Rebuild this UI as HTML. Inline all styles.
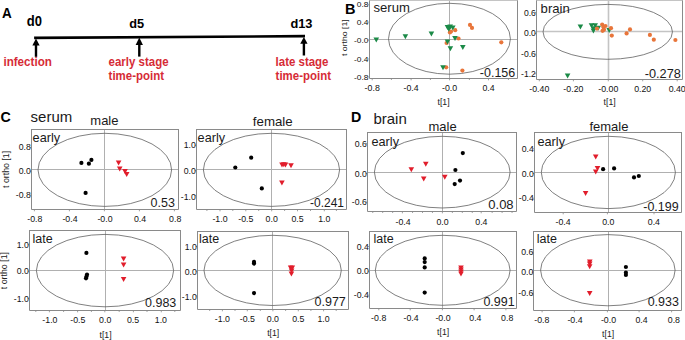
<!DOCTYPE html>
<html><head><meta charset="utf-8"><style>
html,body{margin:0;padding:0;background:#fff;}
body{width:685px;height:340px;overflow:hidden;}
svg{display:block;font-family:"Liberation Sans", sans-serif;}
</style></head><body>
<svg width="685" height="340" viewBox="0 0 685 340">
<rect width="685" height="340" fill="#fff"/>
<line x1="369.5" y1="39.5" x2="517.5" y2="39.5" stroke="#b0b0b0" stroke-width="1.0"/>
<line x1="449.5" y1="0.5" x2="449.5" y2="78.5" stroke="#b0b0b0" stroke-width="1.0"/>
<ellipse cx="449.45" cy="38.75" rx="60.95" ry="35.45" fill="none" stroke="#555555" stroke-width="0.75"/>
<line x1="369.0" y1="0.5" x2="518.0" y2="0.5" stroke="#c4c4c4" stroke-width="1"/>
<path d="M369.5,0.5V78.5H517.5V0.5" fill="none" stroke="#8a8a8a" stroke-width="1"/>
<line x1="372.2" y1="78.5" x2="372.2" y2="80.3" stroke="#8a8a8a" stroke-width="0.8"/>
<line x1="411.1" y1="78.5" x2="411.1" y2="80.3" stroke="#8a8a8a" stroke-width="0.8"/>
<line x1="449.6" y1="78.5" x2="449.6" y2="80.3" stroke="#8a8a8a" stroke-width="0.8"/>
<line x1="488.5" y1="78.5" x2="488.5" y2="80.3" stroke="#8a8a8a" stroke-width="0.8"/>
<line x1="391.40" y1="78.5" x2="391.40" y2="80.0" stroke="#8a8a8a" stroke-width="0.8"/>
<line x1="430.40" y1="78.5" x2="430.40" y2="80.0" stroke="#8a8a8a" stroke-width="0.8"/>
<line x1="469.40" y1="78.5" x2="469.40" y2="80.0" stroke="#8a8a8a" stroke-width="0.8"/>
<line x1="508.40" y1="78.5" x2="508.40" y2="80.0" stroke="#8a8a8a" stroke-width="0.8"/>
<line x1="367.7" y1="4.7" x2="369.5" y2="4.7" stroke="#8a8a8a" stroke-width="0.8"/>
<line x1="367.7" y1="22.1" x2="369.5" y2="22.1" stroke="#8a8a8a" stroke-width="0.8"/>
<line x1="367.7" y1="40" x2="369.5" y2="40" stroke="#8a8a8a" stroke-width="0.8"/>
<line x1="367.7" y1="59" x2="369.5" y2="59" stroke="#8a8a8a" stroke-width="0.8"/>
<line x1="367.7" y1="77" x2="369.5" y2="77" stroke="#8a8a8a" stroke-width="0.8"/>
<text transform="translate(368.40,7.47) scale(1.0,0.92)" font-size="8.4" text-anchor="end" font-weight="normal" fill="#111111" >0.8</text>
<text transform="translate(368.40,24.87) scale(1.0,0.92)" font-size="8.4" text-anchor="end" font-weight="normal" fill="#111111" >0.4</text>
<text transform="translate(368.40,42.77) scale(1.0,0.92)" font-size="8.4" text-anchor="end" font-weight="normal" fill="#111111" >-0.0</text>
<text transform="translate(368.40,61.77) scale(1.0,0.92)" font-size="8.4" text-anchor="end" font-weight="normal" fill="#111111" >-0.4</text>
<text transform="translate(368.40,79.77) scale(1.0,0.92)" font-size="8.4" text-anchor="end" font-weight="normal" fill="#111111" >-0.8</text>
<text transform="translate(372.20,90.89) scale(1.0,0.95)" font-size="8.8" text-anchor="middle" font-weight="normal" fill="#111111" >-0.8</text>
<text transform="translate(411.10,90.89) scale(1.0,0.95)" font-size="8.8" text-anchor="middle" font-weight="normal" fill="#111111" >-0.4</text>
<text transform="translate(449.60,90.89) scale(1.0,0.95)" font-size="8.8" text-anchor="middle" font-weight="normal" fill="#111111" >-0.0</text>
<text transform="translate(488.50,90.89) scale(1.0,0.95)" font-size="8.8" text-anchor="middle" font-weight="normal" fill="#111111" >0.4</text>
<circle cx="470.00" cy="24.90" r="2.1" fill="#e8753a"/>
<circle cx="472.00" cy="27.90" r="2.1" fill="#e8753a"/>
<circle cx="455.20" cy="30.20" r="2.1" fill="#e8753a"/>
<circle cx="449.90" cy="32.40" r="2.1" fill="#e8753a"/>
<circle cx="451.00" cy="31.50" r="2.1" fill="#e8753a"/>
<circle cx="458.50" cy="38.50" r="2.1" fill="#e8753a"/>
<circle cx="446.60" cy="43.00" r="2.1" fill="#e8753a"/>
<circle cx="501.30" cy="42.30" r="2.1" fill="#e8753a"/>
<circle cx="446.20" cy="67.30" r="2.1" fill="#e8753a"/>
<circle cx="462.40" cy="70.60" r="2.1" fill="#e8753a"/>
<path d="M373.50,37.50L379.10,37.50L376.30,42.50Z" fill="#1b8a47"/>
<path d="M402.60,34.30L408.20,34.30L405.40,39.30Z" fill="#1b8a47"/>
<path d="M428.60,31.60L434.20,31.60L431.40,36.60Z" fill="#1b8a47"/>
<path d="M444.70,25.10L450.30,25.10L447.50,30.10Z" fill="#1b8a47"/>
<path d="M447.40,24.60L453.00,24.60L450.20,29.60Z" fill="#1b8a47"/>
<path d="M450.00,25.50L455.60,25.50L452.80,30.50Z" fill="#1b8a47"/>
<path d="M446.00,26.80L451.60,26.80L448.80,31.80Z" fill="#1b8a47"/>
<path d="M452.20,36.10L457.80,36.10L455.00,41.10Z" fill="#1b8a47"/>
<path d="M444.70,39.60L450.30,39.60L447.50,44.60Z" fill="#1b8a47"/>
<path d="M447.60,46.30L453.20,46.30L450.40,51.30Z" fill="#1b8a47"/>
<path d="M460.00,44.90L465.60,44.90L462.80,49.90Z" fill="#1b8a47"/>
<path d="M440.20,65.20L445.80,65.20L443.00,70.20Z" fill="#1b8a47"/>
<text transform="translate(373.50,11.70)" font-size="13.1" text-anchor="start" font-weight="normal" fill="#1a1a1a" >serum</text>
<text transform="translate(515.20,77.20) scale(0.96,1.0)" font-size="13" text-anchor="end" font-weight="normal" fill="#1a1a1a" >-0.156</text>
<line x1="536.5" y1="31.5" x2="682.5" y2="31.5" stroke="#c4c4c4" stroke-width="1.6"/>
<line x1="608.5" y1="0.5" x2="608.5" y2="79.5" stroke="#c4c4c4" stroke-width="1.6"/>
<ellipse cx="607.75" cy="31.85" rx="64.7" ry="27.45" fill="none" stroke="#555555" stroke-width="0.75"/>
<line x1="536.0" y1="0.5" x2="683.0" y2="0.5" stroke="#c4c4c4" stroke-width="1"/>
<path d="M536.5,0.5V79.5H682.5V0.5" fill="none" stroke="#8a8a8a" stroke-width="1"/>
<line x1="539.3" y1="79.5" x2="539.3" y2="81.3" stroke="#8a8a8a" stroke-width="0.8"/>
<line x1="573.4" y1="79.5" x2="573.4" y2="81.3" stroke="#8a8a8a" stroke-width="0.8"/>
<line x1="608.3" y1="79.5" x2="608.3" y2="81.3" stroke="#8a8a8a" stroke-width="0.8"/>
<line x1="642.7" y1="79.5" x2="642.7" y2="81.3" stroke="#8a8a8a" stroke-width="0.8"/>
<line x1="677.2" y1="79.5" x2="677.2" y2="81.3" stroke="#8a8a8a" stroke-width="0.8"/>
<line x1="534.7" y1="12.5" x2="536.5" y2="12.5" stroke="#8a8a8a" stroke-width="0.8"/>
<line x1="534.7" y1="33.4" x2="536.5" y2="33.4" stroke="#8a8a8a" stroke-width="0.8"/>
<line x1="534.7" y1="54" x2="536.5" y2="54" stroke="#8a8a8a" stroke-width="0.8"/>
<line x1="534.7" y1="73.8" x2="536.5" y2="73.8" stroke="#8a8a8a" stroke-width="0.8"/>
<text transform="translate(535.90,15.58)" font-size="8.6" text-anchor="end" font-weight="normal" fill="#111111" >0.6</text>
<text transform="translate(535.90,36.48)" font-size="8.6" text-anchor="end" font-weight="normal" fill="#111111" >0.0</text>
<text transform="translate(535.90,57.08)" font-size="8.6" text-anchor="end" font-weight="normal" fill="#111111" >-0.6</text>
<text transform="translate(535.90,76.88)" font-size="8.6" text-anchor="end" font-weight="normal" fill="#111111" >-1.2</text>
<text transform="translate(539.30,92.09) scale(1.0,0.95)" font-size="8.8" text-anchor="middle" font-weight="normal" fill="#111111" >-0.40</text>
<text transform="translate(573.40,92.09) scale(1.0,0.95)" font-size="8.8" text-anchor="middle" font-weight="normal" fill="#111111" >-0.20</text>
<text transform="translate(608.30,92.09) scale(1.0,0.95)" font-size="8.8" text-anchor="middle" font-weight="normal" fill="#111111" >-0.00</text>
<text transform="translate(642.70,92.09) scale(1.0,0.95)" font-size="8.8" text-anchor="middle" font-weight="normal" fill="#111111" >0.20</text>
<text transform="translate(677.20,92.09) scale(1.0,0.95)" font-size="8.8" text-anchor="middle" font-weight="normal" fill="#111111" >0.40</text>
<path d="M577.60,24.40L583.20,24.40L580.40,29.40Z" fill="#1b8a47"/>
<path d="M588.70,23.20L594.30,23.20L591.50,28.20Z" fill="#1b8a47"/>
<path d="M592.40,23.20L598.00,23.20L595.20,28.20Z" fill="#1b8a47"/>
<path d="M590.60,26.20L596.20,26.20L593.40,31.20Z" fill="#1b8a47"/>
<path d="M590.60,28.60L596.20,28.60L593.40,33.60Z" fill="#1b8a47"/>
<path d="M595.40,25.80L601.00,25.80L598.20,30.80Z" fill="#1b8a47"/>
<path d="M606.40,28.10L612.00,28.10L609.20,33.10Z" fill="#1b8a47"/>
<path d="M564.80,73.60L570.40,73.60L567.60,78.60Z" fill="#1b8a47"/>
<circle cx="597.00" cy="28.60" r="2.1" fill="#e8753a"/>
<circle cx="602.20" cy="24.60" r="2.1" fill="#e8753a"/>
<circle cx="603.30" cy="27.10" r="2.1" fill="#e8753a"/>
<circle cx="602.60" cy="30.80" r="2.1" fill="#e8753a"/>
<circle cx="605.50" cy="26.00" r="2.1" fill="#e8753a"/>
<circle cx="604.00" cy="29.70" r="2.1" fill="#e8753a"/>
<circle cx="611.00" cy="28.20" r="2.1" fill="#e8753a"/>
<circle cx="611.80" cy="35.60" r="2.1" fill="#e8753a"/>
<circle cx="630.00" cy="29.40" r="2.1" fill="#e8753a"/>
<circle cx="626.60" cy="33.40" r="2.1" fill="#e8753a"/>
<circle cx="649.90" cy="34.90" r="2.1" fill="#e8753a"/>
<circle cx="653.80" cy="39.70" r="2.1" fill="#e8753a"/>
<circle cx="675.40" cy="40.00" r="2.1" fill="#e8753a"/>
<text transform="translate(540.60,12.90)" font-size="13.1" text-anchor="start" font-weight="normal" fill="#1a1a1a" >brain</text>
<text transform="translate(680.80,78.00) scale(0.98,1.0)" font-size="13" text-anchor="end" font-weight="normal" fill="#1a1a1a" >-0.278</text>
<line x1="31.5" y1="169.5" x2="178.5" y2="169.5" stroke="#b0b0b0" stroke-width="1.0"/>
<line x1="104.5" y1="129.5" x2="104.5" y2="209.5" stroke="#b0b0b0" stroke-width="1.0"/>
<ellipse cx="104.8" cy="169.85" rx="66.8" ry="36.55" fill="none" stroke="#555555" stroke-width="0.75"/>
<line x1="31.0" y1="129.5" x2="179.0" y2="129.5" stroke="#8a8a8a" stroke-width="1"/>
<path d="M31.5,129.5V209.5H178.5V129.5" fill="none" stroke="#8a8a8a" stroke-width="1"/>
<line x1="34.4" y1="209.5" x2="34.4" y2="211.3" stroke="#8a8a8a" stroke-width="0.8"/>
<line x1="69.4" y1="209.5" x2="69.4" y2="211.3" stroke="#8a8a8a" stroke-width="0.8"/>
<line x1="104.4" y1="209.5" x2="104.4" y2="211.3" stroke="#8a8a8a" stroke-width="0.8"/>
<line x1="139.4" y1="209.5" x2="139.4" y2="211.3" stroke="#8a8a8a" stroke-width="0.8"/>
<line x1="174.4" y1="209.5" x2="174.4" y2="211.3" stroke="#8a8a8a" stroke-width="0.8"/>
<line x1="29.7" y1="147.3" x2="31.5" y2="147.3" stroke="#8a8a8a" stroke-width="0.8"/>
<line x1="29.7" y1="171.2" x2="31.5" y2="171.2" stroke="#8a8a8a" stroke-width="0.8"/>
<line x1="29.7" y1="195" x2="31.5" y2="195" stroke="#8a8a8a" stroke-width="0.8"/>
<text transform="translate(30.80,150.41)" font-size="8.7" text-anchor="end" font-weight="normal" fill="#111111" >0.8</text>
<text transform="translate(30.80,174.31)" font-size="8.7" text-anchor="end" font-weight="normal" fill="#111111" >0.0</text>
<text transform="translate(30.80,198.11)" font-size="8.7" text-anchor="end" font-weight="normal" fill="#111111" >-0.8</text>
<text transform="translate(34.80,222.19) scale(1.0,0.95)" font-size="8.8" text-anchor="middle" font-weight="normal" fill="#111111" >-0.8</text>
<text transform="translate(70.00,222.19) scale(1.0,0.95)" font-size="8.8" text-anchor="middle" font-weight="normal" fill="#111111" >-0.4</text>
<text transform="translate(105.00,222.19) scale(1.0,0.95)" font-size="8.8" text-anchor="middle" font-weight="normal" fill="#111111" >-0.0</text>
<text transform="translate(140.10,222.19) scale(1.0,0.95)" font-size="8.8" text-anchor="middle" font-weight="normal" fill="#111111" >0.4</text>
<text transform="translate(175.20,222.19) scale(1.0,0.95)" font-size="8.8" text-anchor="middle" font-weight="normal" fill="#111111" >0.8</text>
<circle cx="81.40" cy="162.90" r="2.1" fill="#000"/>
<circle cx="88.90" cy="163.70" r="2.1" fill="#000"/>
<circle cx="91.40" cy="159.90" r="2.1" fill="#000"/>
<circle cx="85.60" cy="192.90" r="2.1" fill="#000"/>
<path d="M115.80,160.50L121.40,160.50L118.60,165.50Z" fill="#e11d2b"/>
<path d="M116.90,166.40L122.50,166.40L119.70,171.40Z" fill="#e11d2b"/>
<path d="M122.20,168.90L127.80,168.90L125.00,173.90Z" fill="#e11d2b"/>
<path d="M123.90,172.00L129.50,172.00L126.70,177.00Z" fill="#e11d2b"/>
<text transform="translate(32.60,141.60)" font-size="12.7" text-anchor="start" font-weight="normal" fill="#1a1a1a" >early</text>
<text transform="translate(174.90,206.60) scale(0.96,1.0)" font-size="13" text-anchor="end" font-weight="normal" fill="#1a1a1a" >0.53</text>
<line x1="196.5" y1="169.5" x2="346.5" y2="169.5" stroke="#b0b0b0" stroke-width="1.0"/>
<line x1="271.5" y1="129.5" x2="271.5" y2="209.5" stroke="#b0b0b0" stroke-width="1.0"/>
<ellipse cx="271.5" cy="169.85" rx="68.1" ry="36.55" fill="none" stroke="#555555" stroke-width="0.75"/>
<line x1="196.0" y1="129.5" x2="347.0" y2="129.5" stroke="#8a8a8a" stroke-width="1"/>
<path d="M196.5,129.5V209.5H346.5V129.5" fill="none" stroke="#8a8a8a" stroke-width="1"/>
<line x1="220" y1="209.5" x2="220" y2="211.3" stroke="#8a8a8a" stroke-width="0.8"/>
<line x1="245.8" y1="209.5" x2="245.8" y2="211.3" stroke="#8a8a8a" stroke-width="0.8"/>
<line x1="271.7" y1="209.5" x2="271.7" y2="211.3" stroke="#8a8a8a" stroke-width="0.8"/>
<line x1="297.5" y1="209.5" x2="297.5" y2="211.3" stroke="#8a8a8a" stroke-width="0.8"/>
<line x1="324.3" y1="209.5" x2="324.3" y2="211.3" stroke="#8a8a8a" stroke-width="0.8"/>
<line x1="206.90" y1="209.5" x2="206.90" y2="211.0" stroke="#8a8a8a" stroke-width="0.8"/>
<line x1="232.80" y1="209.5" x2="232.80" y2="211.0" stroke="#8a8a8a" stroke-width="0.8"/>
<line x1="258.70" y1="209.5" x2="258.70" y2="211.0" stroke="#8a8a8a" stroke-width="0.8"/>
<line x1="284.60" y1="209.5" x2="284.60" y2="211.0" stroke="#8a8a8a" stroke-width="0.8"/>
<line x1="310.50" y1="209.5" x2="310.50" y2="211.0" stroke="#8a8a8a" stroke-width="0.8"/>
<line x1="336.40" y1="209.5" x2="336.40" y2="211.0" stroke="#8a8a8a" stroke-width="0.8"/>
<line x1="194.7" y1="145.3" x2="196.5" y2="145.3" stroke="#8a8a8a" stroke-width="0.8"/>
<line x1="194.7" y1="170.7" x2="196.5" y2="170.7" stroke="#8a8a8a" stroke-width="0.8"/>
<line x1="194.7" y1="195.4" x2="196.5" y2="195.4" stroke="#8a8a8a" stroke-width="0.8"/>
<text transform="translate(195.80,148.21)" font-size="8.7" text-anchor="end" font-weight="normal" fill="#111111" >1.0</text>
<text transform="translate(195.80,174.01)" font-size="8.7" text-anchor="end" font-weight="normal" fill="#111111" >0.0</text>
<text transform="translate(195.80,199.71)" font-size="8.7" text-anchor="end" font-weight="normal" fill="#111111" >-1.0</text>
<text transform="translate(220.00,222.19) scale(1.0,0.95)" font-size="8.8" text-anchor="middle" font-weight="normal" fill="#111111" >-1.0</text>
<text transform="translate(245.80,222.19) scale(1.0,0.95)" font-size="8.8" text-anchor="middle" font-weight="normal" fill="#111111" >-0.5</text>
<text transform="translate(271.70,222.19) scale(1.0,0.95)" font-size="8.8" text-anchor="middle" font-weight="normal" fill="#111111" >0.0</text>
<text transform="translate(297.50,222.19) scale(1.0,0.95)" font-size="8.8" text-anchor="middle" font-weight="normal" fill="#111111" >0.5</text>
<text transform="translate(324.30,222.19) scale(1.0,0.95)" font-size="8.8" text-anchor="middle" font-weight="normal" fill="#111111" >1.0</text>
<circle cx="235.30" cy="167.50" r="2.1" fill="#000"/>
<circle cx="251.20" cy="157.70" r="2.1" fill="#000"/>
<circle cx="261.80" cy="188.40" r="2.1" fill="#000"/>
<path d="M279.20,162.40L284.80,162.40L282.00,167.40Z" fill="#e11d2b"/>
<path d="M281.00,162.20L286.60,162.20L283.80,167.20Z" fill="#e11d2b"/>
<path d="M282.70,162.40L288.30,162.40L285.50,167.40Z" fill="#e11d2b"/>
<path d="M288.20,163.30L293.80,163.30L291.00,168.30Z" fill="#e11d2b"/>
<path d="M279.10,180.60L284.70,180.60L281.90,185.60Z" fill="#e11d2b"/>
<text transform="translate(197.60,141.60)" font-size="12.7" text-anchor="start" font-weight="normal" fill="#1a1a1a" >early</text>
<text transform="translate(344.00,207.10) scale(0.92,1.0)" font-size="13" text-anchor="end" font-weight="normal" fill="#1a1a1a" >-0.241</text>
<line x1="29.5" y1="270.5" x2="180.5" y2="270.5" stroke="#b0b0b0" stroke-width="1.0"/>
<line x1="105.5" y1="230.5" x2="105.5" y2="310.5" stroke="#b0b0b0" stroke-width="1.0"/>
<ellipse cx="105.0" cy="270.6" rx="68.6" ry="36.2" fill="none" stroke="#555555" stroke-width="0.75"/>
<line x1="29.0" y1="230.5" x2="181.0" y2="230.5" stroke="#8a8a8a" stroke-width="1"/>
<path d="M29.5,230.5V310.5H180.5V230.5" fill="none" stroke="#8a8a8a" stroke-width="1"/>
<line x1="49.4" y1="310.5" x2="49.4" y2="312.3" stroke="#8a8a8a" stroke-width="0.8"/>
<line x1="77.6" y1="310.5" x2="77.6" y2="312.3" stroke="#8a8a8a" stroke-width="0.8"/>
<line x1="104.8" y1="310.5" x2="104.8" y2="312.3" stroke="#8a8a8a" stroke-width="0.8"/>
<line x1="133.4" y1="310.5" x2="133.4" y2="312.3" stroke="#8a8a8a" stroke-width="0.8"/>
<line x1="161.3" y1="310.5" x2="161.3" y2="312.3" stroke="#8a8a8a" stroke-width="0.8"/>
<line x1="35.80" y1="310.5" x2="35.80" y2="312.0" stroke="#8a8a8a" stroke-width="0.8"/>
<line x1="63.60" y1="310.5" x2="63.60" y2="312.0" stroke="#8a8a8a" stroke-width="0.8"/>
<line x1="91.40" y1="310.5" x2="91.40" y2="312.0" stroke="#8a8a8a" stroke-width="0.8"/>
<line x1="119.20" y1="310.5" x2="119.20" y2="312.0" stroke="#8a8a8a" stroke-width="0.8"/>
<line x1="147.00" y1="310.5" x2="147.00" y2="312.0" stroke="#8a8a8a" stroke-width="0.8"/>
<line x1="174.80" y1="310.5" x2="174.80" y2="312.0" stroke="#8a8a8a" stroke-width="0.8"/>
<line x1="27.7" y1="244.7" x2="29.5" y2="244.7" stroke="#8a8a8a" stroke-width="0.8"/>
<line x1="27.7" y1="271.2" x2="29.5" y2="271.2" stroke="#8a8a8a" stroke-width="0.8"/>
<line x1="27.7" y1="298.4" x2="29.5" y2="298.4" stroke="#8a8a8a" stroke-width="0.8"/>
<text transform="translate(28.80,247.81)" font-size="8.7" text-anchor="end" font-weight="normal" fill="#111111" >1.0</text>
<text transform="translate(28.80,274.31)" font-size="8.7" text-anchor="end" font-weight="normal" fill="#111111" >0.0</text>
<text transform="translate(28.80,301.51)" font-size="8.7" text-anchor="end" font-weight="normal" fill="#111111" >-1.0</text>
<text transform="translate(49.90,322.89) scale(1.0,0.95)" font-size="8.8" text-anchor="middle" font-weight="normal" fill="#111111" >-1.0</text>
<text transform="translate(77.80,322.89) scale(1.0,0.95)" font-size="8.8" text-anchor="middle" font-weight="normal" fill="#111111" >-0.5</text>
<text transform="translate(105.20,322.89) scale(1.0,0.95)" font-size="8.8" text-anchor="middle" font-weight="normal" fill="#111111" >0.0</text>
<text transform="translate(133.10,322.89) scale(1.0,0.95)" font-size="8.8" text-anchor="middle" font-weight="normal" fill="#111111" >0.5</text>
<text transform="translate(160.90,322.89) scale(1.0,0.95)" font-size="8.8" text-anchor="middle" font-weight="normal" fill="#111111" >1.0</text>
<circle cx="86.40" cy="252.90" r="2.1" fill="#000"/>
<circle cx="87.00" cy="274.50" r="2.1" fill="#000"/>
<circle cx="86.50" cy="276.50" r="2.1" fill="#000"/>
<circle cx="86.00" cy="278.30" r="2.1" fill="#000"/>
<path d="M120.80,256.40L126.40,256.40L123.60,261.40Z" fill="#e11d2b"/>
<path d="M120.80,262.50L126.40,262.50L123.60,267.50Z" fill="#e11d2b"/>
<path d="M120.80,276.90L126.40,276.90L123.60,281.90Z" fill="#e11d2b"/>
<text transform="translate(32.50,243.00)" font-size="12.5" text-anchor="start" font-weight="normal" fill="#1a1a1a" >late</text>
<text transform="translate(176.30,306.60) scale(0.96,1.0)" font-size="13" text-anchor="end" font-weight="normal" fill="#1a1a1a" >0.983</text>
<line x1="197.5" y1="270.5" x2="348.5" y2="270.5" stroke="#b0b0b0" stroke-width="1.0"/>
<line x1="272.5" y1="231.5" x2="272.5" y2="309.5" stroke="#b0b0b0" stroke-width="1.0"/>
<ellipse cx="272.65" cy="270.4" rx="68.65" ry="35.1" fill="none" stroke="#555555" stroke-width="0.75"/>
<line x1="197.0" y1="231.5" x2="349.0" y2="231.5" stroke="#8a8a8a" stroke-width="1"/>
<path d="M197.5,231.5V309.5H348.5V231.5" fill="none" stroke="#8a8a8a" stroke-width="1"/>
<line x1="222.4" y1="309.5" x2="222.4" y2="311.3" stroke="#8a8a8a" stroke-width="0.8"/>
<line x1="247.3" y1="309.5" x2="247.3" y2="311.3" stroke="#8a8a8a" stroke-width="0.8"/>
<line x1="272.9" y1="309.5" x2="272.9" y2="311.3" stroke="#8a8a8a" stroke-width="0.8"/>
<line x1="298.3" y1="309.5" x2="298.3" y2="311.3" stroke="#8a8a8a" stroke-width="0.8"/>
<line x1="323.6" y1="309.5" x2="323.6" y2="311.3" stroke="#8a8a8a" stroke-width="0.8"/>
<line x1="209.70" y1="309.5" x2="209.70" y2="311.0" stroke="#8a8a8a" stroke-width="0.8"/>
<line x1="235.00" y1="309.5" x2="235.00" y2="311.0" stroke="#8a8a8a" stroke-width="0.8"/>
<line x1="260.30" y1="309.5" x2="260.30" y2="311.0" stroke="#8a8a8a" stroke-width="0.8"/>
<line x1="285.60" y1="309.5" x2="285.60" y2="311.0" stroke="#8a8a8a" stroke-width="0.8"/>
<line x1="310.90" y1="309.5" x2="310.90" y2="311.0" stroke="#8a8a8a" stroke-width="0.8"/>
<line x1="336.20" y1="309.5" x2="336.20" y2="311.0" stroke="#8a8a8a" stroke-width="0.8"/>
<line x1="195.7" y1="246.5" x2="197.5" y2="246.5" stroke="#8a8a8a" stroke-width="0.8"/>
<line x1="195.7" y1="271.2" x2="197.5" y2="271.2" stroke="#8a8a8a" stroke-width="0.8"/>
<line x1="195.7" y1="295.9" x2="197.5" y2="295.9" stroke="#8a8a8a" stroke-width="0.8"/>
<text transform="translate(196.80,250.31)" font-size="8.7" text-anchor="end" font-weight="normal" fill="#111111" >1.0</text>
<text transform="translate(196.80,275.01)" font-size="8.7" text-anchor="end" font-weight="normal" fill="#111111" >0.0</text>
<text transform="translate(196.80,299.71)" font-size="8.7" text-anchor="end" font-weight="normal" fill="#111111" >-1.0</text>
<text transform="translate(222.40,321.79) scale(1.0,0.95)" font-size="8.8" text-anchor="middle" font-weight="normal" fill="#111111" >-1.0</text>
<text transform="translate(247.30,321.79) scale(1.0,0.95)" font-size="8.8" text-anchor="middle" font-weight="normal" fill="#111111" >-0.5</text>
<text transform="translate(272.90,321.79) scale(1.0,0.95)" font-size="8.8" text-anchor="middle" font-weight="normal" fill="#111111" >0.0</text>
<text transform="translate(298.30,321.79) scale(1.0,0.95)" font-size="8.8" text-anchor="middle" font-weight="normal" fill="#111111" >0.5</text>
<text transform="translate(323.60,321.79) scale(1.0,0.95)" font-size="8.8" text-anchor="middle" font-weight="normal" fill="#111111" >1.0</text>
<circle cx="254.00" cy="261.90" r="2.1" fill="#000"/>
<circle cx="254.00" cy="263.60" r="2.1" fill="#000"/>
<circle cx="254.00" cy="293.10" r="2.1" fill="#000"/>
<path d="M287.80,265.40L293.40,265.40L290.60,270.40Z" fill="#e11d2b"/>
<path d="M289.50,265.60L295.10,265.60L292.30,270.60Z" fill="#e11d2b"/>
<path d="M288.80,268.50L294.40,268.50L291.60,273.50Z" fill="#e11d2b"/>
<path d="M288.60,271.40L294.20,271.40L291.40,276.40Z" fill="#e11d2b"/>
<text transform="translate(199.00,243.00)" font-size="12.5" text-anchor="start" font-weight="normal" fill="#1a1a1a" >late</text>
<text transform="translate(345.80,306.10) scale(0.96,1.0)" font-size="13" text-anchor="end" font-weight="normal" fill="#1a1a1a" >0.977</text>
<line x1="367.5" y1="172.5" x2="516.5" y2="172.5" stroke="#b0b0b0" stroke-width="1.0"/>
<line x1="442.5" y1="132.5" x2="442.5" y2="211.5" stroke="#b0b0b0" stroke-width="1.0"/>
<ellipse cx="442.25" cy="172.15" rx="67.85" ry="35.85" fill="none" stroke="#555555" stroke-width="0.75"/>
<line x1="367.0" y1="132.5" x2="517.0" y2="132.5" stroke="#8a8a8a" stroke-width="1"/>
<path d="M367.5,132.5V211.5H516.5V132.5" fill="none" stroke="#8a8a8a" stroke-width="1"/>
<line x1="402.4" y1="211.5" x2="402.4" y2="213.3" stroke="#8a8a8a" stroke-width="0.8"/>
<line x1="442.4" y1="211.5" x2="442.4" y2="213.3" stroke="#8a8a8a" stroke-width="0.8"/>
<line x1="481.2" y1="211.5" x2="481.2" y2="213.3" stroke="#8a8a8a" stroke-width="0.8"/>
<line x1="372.75" y1="211.5" x2="372.75" y2="213.0" stroke="#8a8a8a" stroke-width="0.8"/>
<line x1="382.70" y1="211.5" x2="382.70" y2="213.0" stroke="#8a8a8a" stroke-width="0.8"/>
<line x1="392.65" y1="211.5" x2="392.65" y2="213.0" stroke="#8a8a8a" stroke-width="0.8"/>
<line x1="412.55" y1="211.5" x2="412.55" y2="213.0" stroke="#8a8a8a" stroke-width="0.8"/>
<line x1="422.50" y1="211.5" x2="422.50" y2="213.0" stroke="#8a8a8a" stroke-width="0.8"/>
<line x1="432.45" y1="211.5" x2="432.45" y2="213.0" stroke="#8a8a8a" stroke-width="0.8"/>
<line x1="452.35" y1="211.5" x2="452.35" y2="213.0" stroke="#8a8a8a" stroke-width="0.8"/>
<line x1="462.30" y1="211.5" x2="462.30" y2="213.0" stroke="#8a8a8a" stroke-width="0.8"/>
<line x1="472.25" y1="211.5" x2="472.25" y2="213.0" stroke="#8a8a8a" stroke-width="0.8"/>
<line x1="492.15" y1="211.5" x2="492.15" y2="213.0" stroke="#8a8a8a" stroke-width="0.8"/>
<line x1="502.10" y1="211.5" x2="502.10" y2="213.0" stroke="#8a8a8a" stroke-width="0.8"/>
<line x1="512.05" y1="211.5" x2="512.05" y2="213.0" stroke="#8a8a8a" stroke-width="0.8"/>
<line x1="365.7" y1="143.5" x2="367.5" y2="143.5" stroke="#8a8a8a" stroke-width="0.8"/>
<line x1="365.7" y1="173.5" x2="367.5" y2="173.5" stroke="#8a8a8a" stroke-width="0.8"/>
<line x1="365.7" y1="202" x2="367.5" y2="202" stroke="#8a8a8a" stroke-width="0.8"/>
<text transform="translate(366.80,146.61)" font-size="8.7" text-anchor="end" font-weight="normal" fill="#111111" >0.6</text>
<text transform="translate(366.80,176.61)" font-size="8.7" text-anchor="end" font-weight="normal" fill="#111111" >0.0</text>
<text transform="translate(366.80,205.11)" font-size="8.7" text-anchor="end" font-weight="normal" fill="#111111" >-0.6</text>
<text transform="translate(403.10,225.19) scale(1.0,0.95)" font-size="8.8" text-anchor="middle" font-weight="normal" fill="#111111" >-0.4</text>
<text transform="translate(442.60,225.19) scale(1.0,0.95)" font-size="8.8" text-anchor="middle" font-weight="normal" fill="#111111" >0.0</text>
<text transform="translate(481.40,225.19) scale(1.0,0.95)" font-size="8.8" text-anchor="middle" font-weight="normal" fill="#111111" >0.4</text>
<circle cx="462.80" cy="153.10" r="2.1" fill="#000"/>
<circle cx="455.40" cy="170.00" r="2.1" fill="#000"/>
<circle cx="460.00" cy="180.60" r="2.1" fill="#000"/>
<circle cx="454.70" cy="184.10" r="2.1" fill="#000"/>
<path d="M408.50,167.20L414.10,167.20L411.30,172.20Z" fill="#e11d2b"/>
<path d="M423.00,161.70L428.60,161.70L425.80,166.70Z" fill="#e11d2b"/>
<path d="M420.90,176.40L426.50,176.40L423.70,181.40Z" fill="#e11d2b"/>
<path d="M442.00,174.70L447.60,174.70L444.80,179.70Z" fill="#e11d2b"/>
<text transform="translate(371.50,145.50)" font-size="12.7" text-anchor="start" font-weight="normal" fill="#1a1a1a" >early</text>
<text transform="translate(513.60,208.50)" font-size="13" text-anchor="end" font-weight="normal" fill="#1a1a1a" >0.08</text>
<line x1="534.5" y1="172.5" x2="681.5" y2="172.5" stroke="#b0b0b0" stroke-width="1.0"/>
<line x1="608.5" y1="132.5" x2="608.5" y2="212.5" stroke="#b0b0b0" stroke-width="1.0"/>
<ellipse cx="608.35" cy="172.45" rx="67.05" ry="36.15" fill="none" stroke="#555555" stroke-width="0.75"/>
<line x1="534.0" y1="132.5" x2="682.0" y2="132.5" stroke="#8a8a8a" stroke-width="1"/>
<path d="M534.5,132.5V212.5H681.5V132.5" fill="none" stroke="#8a8a8a" stroke-width="1"/>
<line x1="563.2" y1="212.5" x2="563.2" y2="214.3" stroke="#8a8a8a" stroke-width="0.8"/>
<line x1="607.4" y1="212.5" x2="607.4" y2="214.3" stroke="#8a8a8a" stroke-width="0.8"/>
<line x1="654" y1="212.5" x2="654" y2="214.3" stroke="#8a8a8a" stroke-width="0.8"/>
<line x1="532.7" y1="148.8" x2="534.5" y2="148.8" stroke="#8a8a8a" stroke-width="0.8"/>
<line x1="532.7" y1="173.5" x2="534.5" y2="173.5" stroke="#8a8a8a" stroke-width="0.8"/>
<line x1="532.7" y1="198.2" x2="534.5" y2="198.2" stroke="#8a8a8a" stroke-width="0.8"/>
<text transform="translate(533.80,151.91)" font-size="8.7" text-anchor="end" font-weight="normal" fill="#111111" >0.4</text>
<text transform="translate(533.80,176.61)" font-size="8.7" text-anchor="end" font-weight="normal" fill="#111111" >0.0</text>
<text transform="translate(533.80,201.31)" font-size="8.7" text-anchor="end" font-weight="normal" fill="#111111" >-0.4</text>
<text transform="translate(563.10,225.19) scale(1.0,0.95)" font-size="8.8" text-anchor="middle" font-weight="normal" fill="#111111" >-0.4</text>
<text transform="translate(608.30,225.19) scale(1.0,0.95)" font-size="8.8" text-anchor="middle" font-weight="normal" fill="#111111" >0.0</text>
<text transform="translate(653.90,225.19) scale(1.0,0.95)" font-size="8.8" text-anchor="middle" font-weight="normal" fill="#111111" >0.4</text>
<circle cx="603.10" cy="169.20" r="2.1" fill="#000"/>
<circle cx="614.10" cy="168.40" r="2.1" fill="#000"/>
<circle cx="634.00" cy="177.40" r="2.1" fill="#000"/>
<circle cx="638.80" cy="176.00" r="2.1" fill="#000"/>
<path d="M592.90,154.60L598.50,154.60L595.70,159.60Z" fill="#e11d2b"/>
<path d="M594.70,165.90L600.30,165.90L597.50,170.90Z" fill="#e11d2b"/>
<path d="M592.90,169.40L598.50,169.40L595.70,174.40Z" fill="#e11d2b"/>
<path d="M582.80,190.90L588.40,190.90L585.60,195.90Z" fill="#e11d2b"/>
<text transform="translate(537.50,145.50)" font-size="12.7" text-anchor="start" font-weight="normal" fill="#1a1a1a" >early</text>
<text transform="translate(678.60,210.70) scale(0.96,1.0)" font-size="13" text-anchor="end" font-weight="normal" fill="#1a1a1a" >-0.199</text>
<line x1="369.5" y1="270.5" x2="516.5" y2="270.5" stroke="#b0b0b0" stroke-width="1.0"/>
<line x1="442.5" y1="231.5" x2="442.5" y2="308.5" stroke="#b0b0b0" stroke-width="1.0"/>
<ellipse cx="442.7" cy="270.3" rx="67.4" ry="35.0" fill="none" stroke="#555555" stroke-width="0.75"/>
<line x1="369.0" y1="231.5" x2="517.0" y2="231.5" stroke="#8a8a8a" stroke-width="1"/>
<path d="M369.5,231.5V308.5H516.5V231.5" fill="none" stroke="#8a8a8a" stroke-width="1"/>
<line x1="378.8" y1="308.5" x2="378.8" y2="310.3" stroke="#8a8a8a" stroke-width="0.8"/>
<line x1="410.2" y1="308.5" x2="410.2" y2="310.3" stroke="#8a8a8a" stroke-width="0.8"/>
<line x1="442.4" y1="308.5" x2="442.4" y2="310.3" stroke="#8a8a8a" stroke-width="0.8"/>
<line x1="474.1" y1="308.5" x2="474.1" y2="310.3" stroke="#8a8a8a" stroke-width="0.8"/>
<line x1="505.9" y1="308.5" x2="505.9" y2="310.3" stroke="#8a8a8a" stroke-width="0.8"/>
<line x1="367.7" y1="246.5" x2="369.5" y2="246.5" stroke="#8a8a8a" stroke-width="0.8"/>
<line x1="367.7" y1="271.2" x2="369.5" y2="271.2" stroke="#8a8a8a" stroke-width="0.8"/>
<line x1="367.7" y1="295.2" x2="369.5" y2="295.2" stroke="#8a8a8a" stroke-width="0.8"/>
<text transform="translate(368.80,249.61)" font-size="8.7" text-anchor="end" font-weight="normal" fill="#111111" >0.4</text>
<text transform="translate(368.80,274.31)" font-size="8.7" text-anchor="end" font-weight="normal" fill="#111111" >0.0</text>
<text transform="translate(368.80,298.31)" font-size="8.7" text-anchor="end" font-weight="normal" fill="#111111" >-0.4</text>
<text transform="translate(378.70,321.09) scale(1.0,0.95)" font-size="8.8" text-anchor="middle" font-weight="normal" fill="#111111" >-0.8</text>
<text transform="translate(411.10,321.09) scale(1.0,0.95)" font-size="8.8" text-anchor="middle" font-weight="normal" fill="#111111" >-0.4</text>
<text transform="translate(443.00,321.09) scale(1.0,0.95)" font-size="8.8" text-anchor="middle" font-weight="normal" fill="#111111" >-0.0</text>
<text transform="translate(475.40,321.09) scale(1.0,0.95)" font-size="8.8" text-anchor="middle" font-weight="normal" fill="#111111" >0.4</text>
<text transform="translate(507.20,321.09) scale(1.0,0.95)" font-size="8.8" text-anchor="middle" font-weight="normal" fill="#111111" >0.8</text>
<circle cx="424.70" cy="258.40" r="2.1" fill="#000"/>
<circle cx="424.70" cy="262.10" r="2.1" fill="#000"/>
<circle cx="424.70" cy="267.40" r="2.1" fill="#000"/>
<circle cx="424.70" cy="292.60" r="2.1" fill="#000"/>
<path d="M458.20,265.40L463.80,265.40L461.00,270.40Z" fill="#e11d2b"/>
<path d="M458.20,267.50L463.80,267.50L461.00,272.50Z" fill="#e11d2b"/>
<path d="M458.20,269.50L463.80,269.50L461.00,274.50Z" fill="#e11d2b"/>
<path d="M458.20,271.40L463.80,271.40L461.00,276.40Z" fill="#e11d2b"/>
<text transform="translate(373.50,243.00)" font-size="12.5" text-anchor="start" font-weight="normal" fill="#1a1a1a" >late</text>
<text transform="translate(514.60,306.00) scale(0.96,1.0)" font-size="13" text-anchor="end" font-weight="normal" fill="#1a1a1a" >0.991</text>
<line x1="533.5" y1="270.5" x2="681.5" y2="270.5" stroke="#b0b0b0" stroke-width="1.0"/>
<line x1="608.5" y1="231.5" x2="608.5" y2="310.5" stroke="#b0b0b0" stroke-width="1.0"/>
<ellipse cx="607.85" cy="270.2" rx="67.25" ry="35.6" fill="none" stroke="#555555" stroke-width="0.75"/>
<line x1="533.0" y1="231.5" x2="682.0" y2="231.5" stroke="#8a8a8a" stroke-width="1"/>
<path d="M533.5,231.5V310.5H681.5V231.5" fill="none" stroke="#8a8a8a" stroke-width="1"/>
<line x1="542.1" y1="310.5" x2="542.1" y2="312.3" stroke="#8a8a8a" stroke-width="0.8"/>
<line x1="574.4" y1="310.5" x2="574.4" y2="312.3" stroke="#8a8a8a" stroke-width="0.8"/>
<line x1="607.4" y1="310.5" x2="607.4" y2="312.3" stroke="#8a8a8a" stroke-width="0.8"/>
<line x1="639.1" y1="310.5" x2="639.1" y2="312.3" stroke="#8a8a8a" stroke-width="0.8"/>
<line x1="671.6" y1="310.5" x2="671.6" y2="312.3" stroke="#8a8a8a" stroke-width="0.8"/>
<line x1="531.7" y1="251.8" x2="533.5" y2="251.8" stroke="#8a8a8a" stroke-width="0.8"/>
<line x1="531.7" y1="272.2" x2="533.5" y2="272.2" stroke="#8a8a8a" stroke-width="0.8"/>
<line x1="531.7" y1="293.1" x2="533.5" y2="293.1" stroke="#8a8a8a" stroke-width="0.8"/>
<text transform="translate(533.30,254.71)" font-size="8.7" text-anchor="end" font-weight="normal" fill="#111111" >0.6</text>
<text transform="translate(533.30,275.21)" font-size="8.7" text-anchor="end" font-weight="normal" fill="#111111" >0.0</text>
<text transform="translate(533.30,295.61)" font-size="8.7" text-anchor="end" font-weight="normal" fill="#111111" >-0.6</text>
<text transform="translate(541.80,322.89) scale(1.0,0.95)" font-size="8.8" text-anchor="middle" font-weight="normal" fill="#111111" >-0.8</text>
<text transform="translate(575.00,322.89) scale(1.0,0.95)" font-size="8.8" text-anchor="middle" font-weight="normal" fill="#111111" >-0.4</text>
<text transform="translate(608.50,322.89) scale(1.0,0.95)" font-size="8.8" text-anchor="middle" font-weight="normal" fill="#111111" >-0.0</text>
<text transform="translate(641.50,322.89) scale(1.0,0.95)" font-size="8.8" text-anchor="middle" font-weight="normal" fill="#111111" >0.4</text>
<text transform="translate(673.90,322.89) scale(1.0,0.95)" font-size="8.8" text-anchor="middle" font-weight="normal" fill="#111111" >0.8</text>
<path d="M587.00,259.50L592.60,259.50L589.80,264.50Z" fill="#e11d2b"/>
<path d="M586.90,261.50L592.50,261.50L589.70,266.50Z" fill="#e11d2b"/>
<path d="M586.90,264.20L592.50,264.20L589.70,269.20Z" fill="#e11d2b"/>
<path d="M586.90,291.10L592.50,291.10L589.70,296.10Z" fill="#e11d2b"/>
<circle cx="625.90" cy="267.00" r="2.1" fill="#000"/>
<circle cx="625.90" cy="272.70" r="2.1" fill="#000"/>
<circle cx="625.90" cy="275.00" r="2.1" fill="#000"/>
<text transform="translate(536.80,243.00)" font-size="12.5" text-anchor="start" font-weight="normal" fill="#1a1a1a" >late</text>
<text transform="translate(678.90,306.10) scale(0.96,1.0)" font-size="13" text-anchor="end" font-weight="normal" fill="#1a1a1a" >0.933</text>
<text transform="translate(1.90,18.20) scale(0.9,1.0)" font-size="15" text-anchor="start" font-weight="bold" fill="#000" >A</text>
<text transform="translate(345.00,13.70)" font-size="14.5" text-anchor="start" font-weight="bold" fill="#000" >B</text>
<text transform="translate(0.50,121.70) scale(0.95,1.0)" font-size="15" text-anchor="start" font-weight="bold" fill="#000" >C</text>
<text transform="translate(350.90,122.20) scale(0.95,1.0)" font-size="15" text-anchor="start" font-weight="bold" fill="#000" >D</text>
<text transform="translate(30.60,122.00)" font-size="15" text-anchor="start" font-weight="normal" fill="#1a1a1a" >serum</text>
<text transform="translate(373.40,123.50)" font-size="15" text-anchor="start" font-weight="normal" fill="#1a1a1a" >brain</text>
<text transform="translate(90.30,124.50)" font-size="13" text-anchor="start" font-weight="normal" fill="#1a1a1a" >male</text>
<text transform="translate(252.80,125.80)" font-size="13.3" text-anchor="start" font-weight="normal" fill="#1a1a1a" >female</text>
<text transform="translate(428.50,131.20)" font-size="13" text-anchor="start" font-weight="normal" fill="#1a1a1a" >male</text>
<text transform="translate(589.40,131.20)" font-size="13" text-anchor="start" font-weight="normal" fill="#1a1a1a" >female</text>
<text transform="translate(346.80,37.60) rotate(-90) scale(1.0,0.88)" font-size="8.7" text-anchor="middle" font-weight="normal" fill="#222" >t ortho [1]</text>
<text transform="translate(9.40,169.40) rotate(-90)" font-size="8.8" text-anchor="middle" font-weight="normal" fill="#222" >t ortho [1]</text>
<text transform="translate(7.10,270.60) rotate(-90)" font-size="8.8" text-anchor="middle" font-weight="normal" fill="#222" >t ortho [1]</text>
<text transform="translate(443.50,105.10)" font-size="8.7" text-anchor="middle" font-weight="normal" fill="#222" >t[1]</text>
<text transform="translate(609.60,105.30)" font-size="8.7" text-anchor="middle" font-weight="normal" fill="#222" >t[1]</text>
<text transform="translate(105.50,338.40)" font-size="8.7" text-anchor="middle" font-weight="normal" fill="#222" >t[1]</text>
<text transform="translate(273.20,336.40)" font-size="8.7" text-anchor="middle" font-weight="normal" fill="#222" >t[1]</text>
<text transform="translate(443.10,335.40)" font-size="8.7" text-anchor="middle" font-weight="normal" fill="#222" >t[1]</text>
<text transform="translate(608.10,337.20)" font-size="8.7" text-anchor="middle" font-weight="normal" fill="#222" >t[1]</text>
<line x1="34.1" y1="37.9" x2="305.0" y2="36.1" stroke="#000" stroke-width="2.6"/>
<path d="M32.35,45.4L36.00,38.4L39.65,45.4Z" fill="#000"/>
<rect x="34.80" y="44.4" width="2.4" height="12.40" fill="#000"/>
<path d="M135.65,45.0L139.30,37.6L142.95,45.0Z" fill="#000"/>
<rect x="138.10" y="44.0" width="2.4" height="12.60" fill="#000"/>
<path d="M300.25,43.8L303.90,36.9L307.55,43.8Z" fill="#000"/>
<rect x="302.70" y="42.8" width="2.4" height="12.70" fill="#000"/>
<text transform="translate(26.70,26.20) scale(0.93,1.0)" font-size="14" text-anchor="start" font-weight="bold" fill="#000" >d0</text>
<text transform="translate(129.30,28.00) scale(0.96,1.0)" font-size="13.3" text-anchor="start" font-weight="bold" fill="#000" >d5</text>
<text transform="translate(290.40,28.40) scale(0.95,1.0)" font-size="13.5" text-anchor="start" font-weight="bold" fill="#000" >d13</text>
<text transform="translate(3.40,66.00) scale(0.94,1.0)" font-size="12.4" text-anchor="start" font-weight="bold" fill="#d62b36" >infection</text>
<text transform="translate(108.60,65.90) scale(0.925,1.0)" font-size="12.4" text-anchor="start" font-weight="bold" fill="#d62b36" >early stage</text>
<text transform="translate(108.60,79.60) scale(0.925,1.0)" font-size="12.4" text-anchor="start" font-weight="bold" fill="#d62b36" >time-point</text>
<text transform="translate(275.60,65.90) scale(0.925,1.0)" font-size="12.4" text-anchor="start" font-weight="bold" fill="#d62b36" >late stage</text>
<text transform="translate(275.60,79.60) scale(0.925,1.0)" font-size="12.4" text-anchor="start" font-weight="bold" fill="#d62b36" >time-point</text>
</svg>
</body></html>
